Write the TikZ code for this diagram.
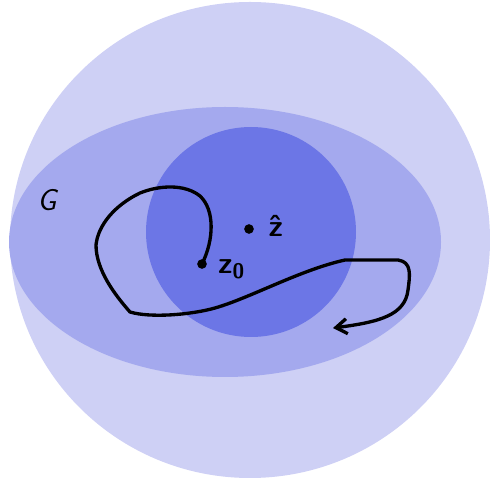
\documentclass[tikz,border=0pt]{standalone}
\usetikzlibrary{positioning, arrows.meta}

\definecolor{outerblue}{RGB}{206,208,245}
\definecolor{midblue}{RGB}{164,169,238}
\definecolor{innerblue}{RGB}{108,118,230}

\begin{document}
\begin{tikzpicture}[
  x=0.02cm, y=-0.02cm,
  dot/.style={circle, fill=black, inner sep=0pt, minimum size=5.5pt},
  hand/.style={font=\sffamily\bfseries\LARGE, inner sep=1pt},
  pathline/.style={line width=1.9pt, line join=round, line cap=round},
  arr/.style={-{Straight Barb[length=2.2mm,width=3mm]}},
]

% ── Frame ──────────────────────────────────────────────────────────
\useasboundingbox (0,0) rectangle (490,482);

% ── Nested regions ─────────────────────────────────────────────────
\fill[outerblue] (250,240) ellipse [x radius=240, y radius=238];
\fill[midblue]   (225,242) ellipse [x radius=216, y radius=135];
\fill[innerblue] (251,232) circle [radius=105];

% ── Labels ─────────────────────────────────────────────────────────
\node[font=\sffamily\itshape\LARGE] (lblG) at (47,200) {G};
\node[dot] (zhat) at (249,229) {};
\node[hand, right=7pt of zhat, yshift=2pt] (lblZhat) {\^{z}};
\node[dot] (zzero) at (202,264) {};
\node[hand, right=5pt of zzero, yshift=-3pt] (lblZzero) {z\textsubscript{0}};

% ── Hand-drawn path from z0 ────────────────────────────────────────
\coordinate (pathend) at (333,328);
\draw[pathline, arr] (zzero.center)
  .. controls (214,240) and (215,210) .. (200,196)
  .. controls (185,184) and (160,185) .. (140,193)
  .. controls (115,205) and (98,225) .. (96,245)
  .. controls (96,270) and (115,295) .. (130,312)
  .. controls (150,318) and (190,315) .. (215,308)
  .. controls (250,298) and (300,270) .. (345,260)
  -- (398,260)
  .. controls (412,262) and (410,275) .. (408,290)
  .. controls (405,315) and (380,322) .. (pathend);

\end{tikzpicture}
\end{document}
